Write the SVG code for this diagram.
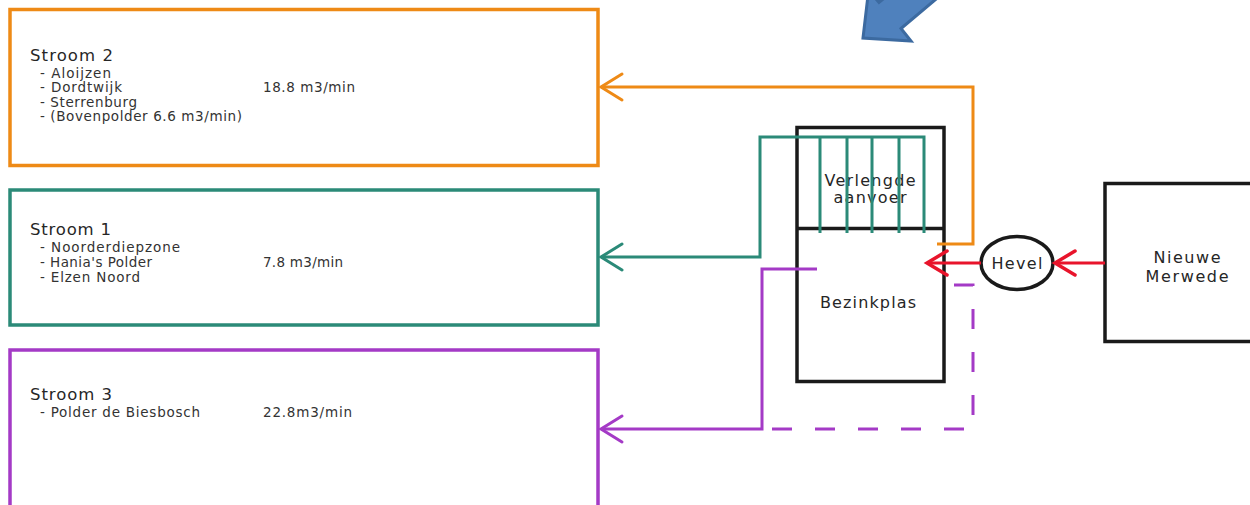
<svg xmlns="http://www.w3.org/2000/svg" width="1250" height="505" viewBox="0 0 1250 505">
<style>
.box{fill:#fff;stroke-width:3.5}
.blk{fill:none;stroke:#1a1a1a;stroke-width:3.5}
.ttl{font-family:"DejaVu Sans",sans-serif;font-size:16.5px;fill:#262626}
.itm{font-family:"DejaVu Sans",sans-serif;font-size:13.5px;fill:#333}
.lbl{font-family:"DejaVu Sans",sans-serif;font-size:16px;fill:#262626;text-anchor:middle}
.ln{fill:none;stroke-width:3;stroke-linejoin:miter}
.or{stroke:#ee8a16}
.te{stroke:#2b8a78}
.pu{stroke:#a43ac6}
.rd{stroke:#e8142b}
</style>
<defs>
<marker id="aor" markerUnits="userSpaceOnUse" markerWidth="30" markerHeight="34" viewBox="-24 -16 30 32" refX="0" refY="0" orient="auto"><path d="M-21,-13 L0,0 L-21,13" fill="none" stroke="#ee8a16" stroke-width="3" stroke-linecap="round"/></marker>
<marker id="ate" markerUnits="userSpaceOnUse" markerWidth="30" markerHeight="34" viewBox="-24 -16 30 32" refX="0" refY="0" orient="auto"><path d="M-21,-13 L0,0 L-21,13" fill="none" stroke="#2b8a78" stroke-width="3" stroke-linecap="round"/></marker>
<marker id="apu" markerUnits="userSpaceOnUse" markerWidth="30" markerHeight="34" viewBox="-24 -16 30 32" refX="0" refY="0" orient="auto"><path d="M-21,-13 L0,0 L-21,13" fill="none" stroke="#a43ac6" stroke-width="3" stroke-linecap="round"/></marker>
<marker id="ard" markerUnits="userSpaceOnUse" markerWidth="30" markerHeight="34" viewBox="-24 -16 30 32" refX="0" refY="0" orient="auto"><path d="M-20,-12 L0,0 L-20,12" fill="none" stroke="#e8142b" stroke-width="3.5" stroke-linecap="round"/></marker>
</defs>
<rect width="1250" height="505" fill="#fff"/>

<g id="blue-arrow">
<path d="M863,38 L868.6,-9.8 L879,2.5 L955.6,-61.8 L977.6,-35.8 L901,28.5 L911,41 Z" fill="#4f81bd" stroke="#3c6aa0" stroke-width="3" stroke-linejoin="miter"/>
</g>

<g id="stroom2">
<rect class="box" x="10" y="9.5" width="588" height="156" stroke="#ee8a16"/>
<text class="ttl" x="30" y="61" textLength="83" lengthAdjust="spacing">Stroom 2</text>
<text class="itm" x="40" y="78" textLength="71" lengthAdjust="spacing">- Aloijzen</text>
<text class="itm" x="40" y="92" textLength="82" lengthAdjust="spacing">- Dordtwijk</text>
<text class="itm" x="40" y="107" textLength="97" lengthAdjust="spacing">- Sterrenburg</text>
<text class="itm" x="40" y="121" textLength="202" lengthAdjust="spacing">- (Bovenpolder 6.6 m3/min)</text>
<text class="itm" x="263" y="92" textLength="92" lengthAdjust="spacing">18.8 m3/min</text>
</g>

<g id="stroom1">
<rect class="box" x="10" y="190" width="588" height="135" stroke="#2b8a78"/>
<text class="ttl" x="30" y="235" textLength="81" lengthAdjust="spacing">Stroom 1</text>
<text class="itm" x="40" y="252" textLength="140" lengthAdjust="spacing">- Noorderdiepzone</text>
<text class="itm" x="40" y="267" textLength="112" lengthAdjust="spacing">- Hania's Polder</text>
<text class="itm" x="40" y="282" textLength="100" lengthAdjust="spacing">- Elzen Noord</text>
<text class="itm" x="263" y="267" textLength="80" lengthAdjust="spacing">7.8 m3/min</text>
</g>

<g id="stroom3">
<rect class="box" x="10" y="350" width="588" height="160" stroke="#a43ac6"/>
<text class="ttl" x="30" y="400" textLength="82" lengthAdjust="spacing">Stroom 3</text>
<text class="itm" x="40" y="417" textLength="160" lengthAdjust="spacing">- Polder de Biesbosch</text>
<text class="itm" x="263" y="417" textLength="89" lengthAdjust="spacing">22.8m3/min</text>
</g>

<g id="bezinkplas">
<rect class="blk" x="797" y="127.5" width="147" height="254"/>
<line class="blk" x1="797" y1="228.5" x2="944" y2="228.5"/>
<text class="lbl" x="870" y="186" textLength="91" lengthAdjust="spacing">Verlengde</text>
<text class="lbl" x="870" y="203" textLength="73" lengthAdjust="spacing">aanvoer</text>
<text class="lbl" x="868" y="308" textLength="96" lengthAdjust="spacing">Bezinkplas</text>
</g>

<g id="hevel">
<ellipse cx="1017" cy="263" rx="36" ry="26.5" fill="#fff" stroke="#1a1a1a" stroke-width="3.5"/>
<text class="lbl" x="1017" y="268.5" textLength="51" lengthAdjust="spacing">Hevel</text>
</g>

<g id="nieuwe-merwede">
<rect class="blk" x="1105" y="183.5" width="160" height="158"/>
<text class="lbl" x="1187" y="263" textLength="67" lengthAdjust="spacing">Nieuwe</text>
<text class="lbl" x="1187" y="282" textLength="83" lengthAdjust="spacing">Merwede</text>
</g>

<g id="connectors">
<path class="ln or" d="M937,244 H973 V87 H601" marker-end="url(#aor)"/>
<path class="ln te" d="M924,233 V137 H760 V257 H601" marker-end="url(#ate)"/>
<path class="ln te" d="M820,137 V233 M847,137 V233 M872,137 V233 M899,137 V233"/>
<path class="ln pu" d="M817,269 H762 V429 H601" marker-end="url(#apu)"/>
<path class="ln pu" d="M762,429 H973 V285 H945" stroke-dasharray="20 23" stroke-dashoffset="-10"/>
<path class="ln rd" d="M981,263 H927" stroke-width="3.5" marker-end="url(#ard)"/>
<path class="ln rd" d="M1105,263 H1055" stroke-width="3.5" marker-end="url(#ard)"/>
</g>
</svg>
